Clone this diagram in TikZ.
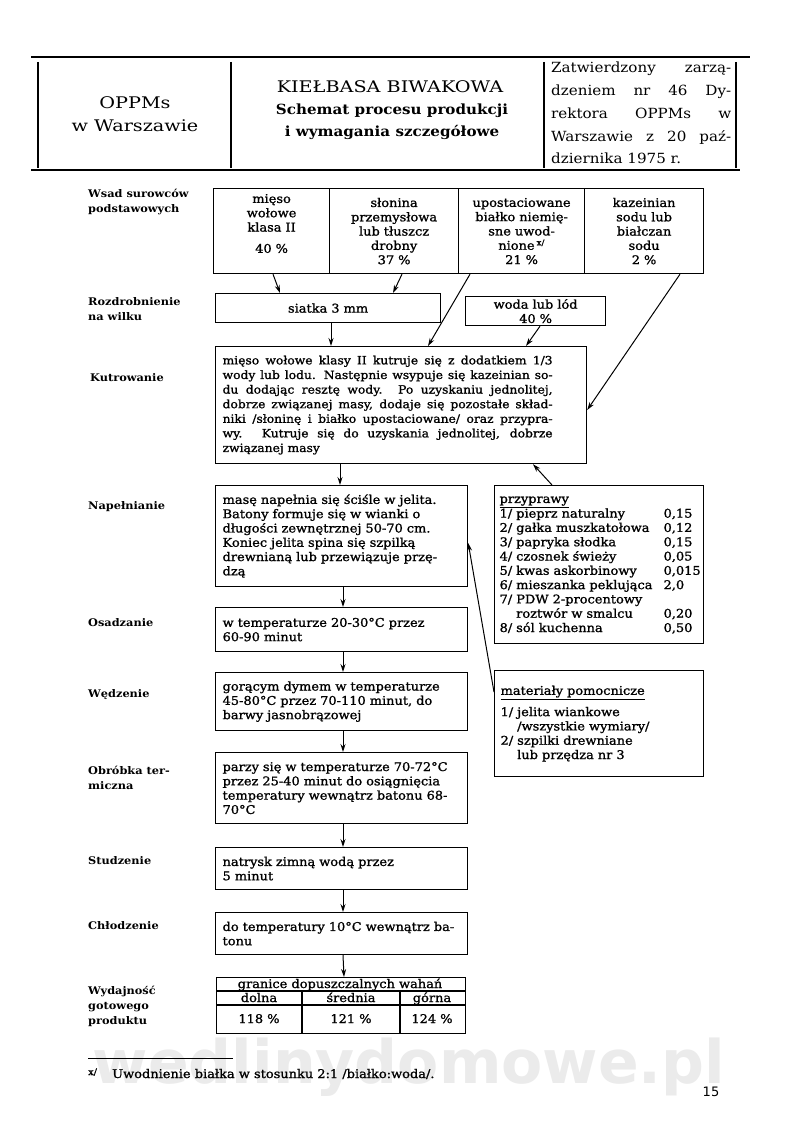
\documentclass[tikz,border=0pt]{standalone}
\usepackage{fontspec}
\setmainfont{DejaVu Serif}[FakeStretch=1.08]
\setsansfont{DejaVu Sans}
\newfontfamily\pTypeFont{DejaVu Serif}[FakeStretch=1.08, FakeBold=1.2]
\newfontfamily\pWideFont{DejaVu Serif}[FakeStretch=1.2]
\usetikzlibrary{arrows.meta}
\newcommand{\pBody}{\pTypeFont\fontsize{12}{14.3}\selectfont}
\newcommand{\pHead}{\fontsize{14}{21}\selectfont}
\newcommand{\pHeadWide}{\pWideFont\fontsize{16}{21}\selectfont}
\newcommand{\pLabel}{\fontsize{10.5}{15}\selectfont\bfseries}
\newcommand{\pJust}[2]{\leavevmode\hbox to #1pt{\spaceskip=0pt\xspaceskip=0pt #2}}

\begin{document}
\begin{tikzpicture}[x=1pt,y=-1pt,>={Stealth[length=8pt,width=5pt]},
  stepbox/.style={draw, line width=1.2pt, anchor=north west, inner xsep=7pt, inner ysep=0pt, align=left, font=\pBody},
  cellbox/.style={stepbox, align=center, inner xsep=2pt, minimum height=85pt},
  flowbox/.style={stepbox, text width=238pt},
  phase/.style={anchor=north west, inner sep=0pt, align=left, font=\pLabel},
  headtext/.style={anchor=base, inner sep=0pt, font=\pHead},
  bodytext/.style={anchor=base, inner sep=0pt, font=\pBody},
  flow/.style={->, line width=1pt},
  rule/.style={line width=2.2pt}]
\useasboundingbox[fill=white] (0,0) rectangle (800,1134);
\node[font=\sffamily\bfseries\fontsize{60}{60}\selectfont, text=black!8, inner sep=0pt, anchor=base] (watermark) at (409,1083) {wedlinydomowe.pl};
\draw[rule] (31,57) -- (750,57);
\draw[rule] (31,170) -- (740,170);
\foreach \x in {38,231,544,736} \draw[line width=1.1pt] (\x,62) -- (\x,168);
\node[headtext, font=\pHeadWide] (office) at (135,109) {OPPMs};
\node[headtext, font=\pHeadWide] (officecity) at (135,132) {w Warszawie};
\node[headtext, font=\pHeadWide] (title) at (390,93) {KIEŁBASA BIWAKOWA};
\node[headtext, font=\pHead\bfseries] (subtitle) at (392,115) {Schemat procesu produkcji};
\node[headtext, font=\pHead\bfseries] (subtitlemore) at (392,137) {i wymagania szczegółowe};
\node[headtext, anchor=base west] (decreeA) at (551,73) {\pJust{180}{Zatwierdzony\hfill zarzą-}};
\node[headtext, anchor=base west] (decreeB) at (551,96) {\pJust{180}{dzeniem\hfill nr\hfill 46\hfill Dy-}};
\node[headtext, anchor=base west] (decreeC) at (551,119) {\pJust{180}{rektora\hfill OPPMs\hfill w}};
\node[headtext, anchor=base west] (decreeD) at (551,142) {\pJust{180}{Warszawie\hfill z\hfill 20\hfill paź-}};
\node[headtext, anchor=base west] (decreeE) at (551,164) {dziernika 1975 r.};
\node[phase] (wsad) at (88,189) {Wsad surowców\\podstawowych};
\node[phase] (rozdr) at (88,297) {Rozdrobnienie\\na wilku};
\node[phase] (kutrlab) at (90,373) {Kutrowanie};
\node[phase] (napelab) at (88,501) {Napełnianie};
\node[phase] (osadlab) at (88,618) {Osadzanie};
\node[phase] (wedzlab) at (88,689) {Wędzenie};
\node[phase] (obrlab) at (88,766) {Obróbka ter-\\miczna};
\node[phase] (studlab) at (88,856) {Studzenie};
\node[phase] (chlodlab) at (88,921) {Chłodzenie};
\node[phase] (wydlab) at (88,986) {Wydajność\\gotowego\\produktu};
\node[cellbox, text width=112pt] (mieso) at (213,188) {mięso\\wołowe\\klasa II\\[7pt]40 \%\\[1pt]\mbox{}};
\node[cellbox, text width=125pt] (slonina) at (329,188) {słonina\\przemysłowa\\lub tłuszcz\\drobny\\37 \%};
\node[cellbox, text width=122pt] (bialko) at (458,188) {upostaciowane\\białko niemię-\\sne uwod-\\nione\,\textsuperscript{x/}\\21 \%};
\node[cellbox, text width=115pt] (kazeinian) at (584,188) {kazeinian\\sodu lub\\białczan\\sodu\\2 \%};
\node[stepbox, align=center, text width=211pt, minimum height=29pt] (siatka) at (215,293) {siatka 3 mm};
\node[stepbox, align=center, text width=126pt, minimum height=29pt] (woda) at (465,296) {woda lub lód\\40 \%};
\node[stepbox, text width=357pt, minimum height=117pt, font=\pTypeFont\fontsize{11.4}{14.6}\selectfont] (kutr) at (215,346) {\pJust{330}{mięso wołowe klasy II kutruje się z dodatkiem 1/3}\\\pJust{330}{wody lub lodu. Następnie wsypuje się kazeinian so-}\\\pJust{330}{du dodając resztę wody. Po uzyskaniu jednolitej,}\\\pJust{330}{dobrze związanej masy, dodaje się pozostałe skład-}\\\pJust{330}{niki /słoninę i białko upostaciowane/ oraz przypra-}\\\pJust{330}{wy. Kutruje się do uzyskania jednolitej, dobrze}\\związanej masy};
\node[flowbox, minimum height=101pt] (napeln) at (215,485) {masę napełnia się ściśle w jelita.\\Batony formuje się w wianki o\\długości zewnętrznej 50-70 cm.\\Koniec jelita spina się szpilką\\drewnianą lub przewiązuje przę-\\dzą};
\node[flowbox, minimum height=44pt] (osadz) at (215,607) {w temperaturze 20-30°C przez\\60-90 minut};
\node[flowbox, minimum height=58pt] (wedz) at (215,672) {gorącym dymem w temperaturze\\45-80°C przez 70-110 minut, do\\barwy jasnobrązowej};
\node[flowbox, minimum height=71pt] (obrobka) at (215,752) {parzy się w temperaturze 70-72°C\\przez 25-40 minut do osiągnięcia\\temperatury wewnątrz batonu 68-\\70°C};
\node[flowbox, minimum height=42pt] (studz) at (215,847) {natrysk zimną wodą przez\\5 minut};
\node[flowbox, minimum height=42pt] (chlodz) at (215,912) {do temperatury 10°C wewnątrz ba-\\tonu};
\node[stepbox, minimum width=249pt, minimum height=56pt] (yield) at (216,977) {};
\draw[line width=1.2pt] ([yshift=-14pt]yield.north west) -- ([yshift=-14pt]yield.north east);
\draw[line width=1.2pt] ([yshift=-28pt]yield.north west) -- ([yshift=-28pt]yield.north east);
\draw[line width=1.2pt] ([xshift=86pt,yshift=-14pt]yield.north west) -- ([xshift=86pt]yield.south west);
\draw[line width=1.2pt] ([xshift=184pt,yshift=-14pt]yield.north west) -- ([xshift=184pt]yield.south west);
\node[bodytext] (range) at (340,988) {granice dopuszczalnych wahań};
\node[bodytext] (low) at (259,1002) {dolna};
\node[bodytext] (mid) at (351,1002) {średnia};
\node[bodytext] (high) at (432,1002) {górna};
\node[bodytext] (lowval) at (259,1023) {118 \%};
\node[bodytext] (midval) at (351,1023) {121 \%};
\node[bodytext] (highval) at (432,1023) {124 \%};
\node[stepbox, inner xsep=5pt, text width=199pt, minimum height=158pt] (przyprawy) at (494,485) {\begin{tabular}{@{}p{164pt}@{}l@{}}
\underline{przyprawy} & \\
1/ pieprz naturalny & 0,15\\
2/ gałka muszkatołowa & 0,12\\
3/ papryka słodka & 0,15\\
4/ czosnek świeży & 0,05\\
5/ kwas askorbinowy & 0,015\\
6/ mieszanka peklująca & 2,0\\
7/ PDW 2-procentowy & \\
\phantom{7/ }roztwór w smalcu & 0,20\\
8/ sól kuchenna & 0,50
\end{tabular}};
\node[stepbox, inner xsep=6pt, text width=197pt, minimum height=106pt] (materialy) at (494,670) {\underline{materiały pomocnicze}\\[7pt]1/ jelita wiankowe\\\phantom{1/ }/wszystkie wymiary/\\2/ szpilki drewniane\\\phantom{2/ }lub przędza nr 3};
\draw[flow] ([xshift=60pt]mieso.south west) -- ([xshift=65pt]siatka.north west);
\draw[flow] ([xshift=73pt]slonina.south west) -- ([xshift=178pt]siatka.north west);
\draw[flow] ([xshift=116pt]siatka.south west) -- ([xshift=116pt]kutr.north west);
\draw[flow] ([xshift=12pt]bialko.south west) -- ([xshift=213pt]kutr.north west);
\draw[flow] ([xshift=75pt]woda.south west) -- ([xshift=311pt]kutr.north west);
\draw[flow] ([xshift=96pt]kazeinian.south west) -- ([yshift=-64pt]kutr.north east);
\draw[flow] ([xshift=125pt]kutr.south west) -- ([xshift=125pt]napeln.north west);
\draw[flow] ([xshift=58pt]przyprawy.north west) -- ([xshift=318pt]kutr.south west);
\draw[flow] ([yshift=-22pt]materialy.north west) -- ([yshift=-58pt]napeln.north east);
\foreach \a/\b in {napeln/osadz, osadz/wedz, wedz/obrobka, obrobka/studz, studz/chlodz, chlodz/yield}
  \draw[flow] ([xshift=128pt]\a.south west) -- ([xshift=128pt]\b.north west);
\draw[line width=0.8pt] (88,1058) -- (233,1058);
\node[bodytext, anchor=base west] (footnote) at (88,1078) {\makebox[24pt][l]{\raisebox{3pt}{\fontsize{9}{9}\selectfont x/}}Uwodnienie białka w stosunku 2:1 /białko:woda/.};
\node[anchor=base, inner sep=0pt, font=\sffamily\fontsize{13}{13}\selectfont] (pagenum) at (711,1096) {15};
\end{tikzpicture}
\end{document}
